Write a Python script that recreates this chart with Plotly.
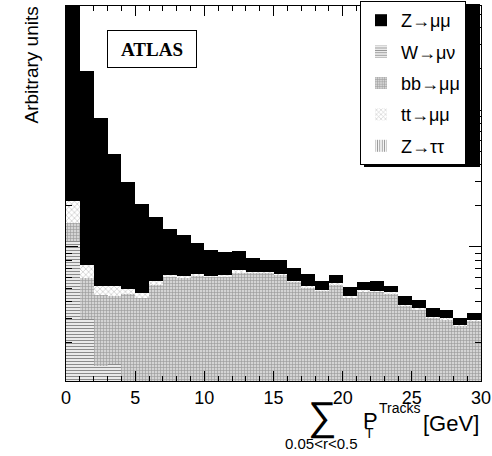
import plotly.graph_objects as go

# bin centres (GeV), 1 GeV bins from 0 to 30
bin_centers = [i + 0.5 for i in range(30)]

# Stack components (arbitrary units), bottom of stack first
z_tautau = [1.0, 1.0, 1.0, 1.0, 1.0, 1.0, 0.5, 0.5, 0.5, 0.5, 0.5, 0.5, 0.5, 0.5, 0.5,
            0.5, 0.5, 0.5, 0.5, 0.5, 0.5, 0.5, 0.5, 0.5, 0.5, 0.5, 0.5, 0.5, 0.5, 0.5]
w_munu = [109, 28.5, 12.4, 13.0, 6, 5, 4.5, 4, 3.5, 3.5, 3, 3, 3, 3, 2.5,
          2.5, 2.5, 2.5, 2, 2, 2, 2, 2, 2, 1.5, 1.5, 1.5, 1.5, 1.5, 1.5]
bb_mumu = [39.7, 29.9, 31.5, 30.1, 38.2, 36.4, 48.1, 55.9, 55.4, 57.7, 56.9, 57.5, 61.1, 61.1, 61.6,
           59.8, 52.5, 47.9, 45.5, 50.6, 40.5, 44.7, 44.4, 43.5, 35.3, 32.9, 28.3, 27.5, 24.7, 27.0]
tt_mumu = [65.5, 14.9, 6.7, 7.5, 4.0, 3.8, 3.0, 2.4, 2.3, 2.1, 1.3, 1.8, 3.7, 1.1, 1.1,
           1.0, 1.2, 1.3, 0.8, 1.5, 0.6, 1.0, 1.1, 0.9, 0.6, 1.0, 0.5, 0.5, 0.4, 0.4]
z_mumu = [6800, 1862, 827, 428, 249, 160, 109.5, 72.5, 60.6, 43.2, 33.9, 29.1, 24.6, 17.5, 14.1,
          16.0, 13.6, 11.3, 7.9, 8.2, 7.7, 7.0, 8.1, 5.3, 6.2, 4.7, 4.8, 4.5, 3.2, 3.6]

labels = {
    "z_mumu": "Z→μμ",
    "w_munu": "W→μν",
    "bb_mumu": "bb→μμ",
    "tt_mumu": "tt→μμ",
    "z_tautau": "Z→ττ",
}

FONT = "Liberation Sans, Arial, sans-serif"

fig = go.Figure()

def add(vals, name, rank, marker):
    fig.add_trace(go.Bar(
        x=bin_centers, y=vals, name=name, width=1.0,
        marker=marker, legendrank=rank, legendgroup=name,
    ))

add(z_tautau, labels["z_tautau"], 5,
    dict(color="white", line=dict(width=0),
         pattern=dict(shape="|", fgcolor="#222", bgcolor="white", size=3, solidity=0.4)))
add(w_munu, labels["w_munu"], 2,
    dict(color="white", line=dict(width=0),
         pattern=dict(shape="-", fgcolor="#222", bgcolor="#f4f4f4", size=3, solidity=0.4)))
add(bb_mumu, labels["bb_mumu"], 3,
    dict(color="#cccccc", line=dict(width=0),
         pattern=dict(shape="+", fgcolor="#5a5a5a", bgcolor="#d4d4d4", size=3, solidity=0.35)))
add(tt_mumu, labels["tt_mumu"], 4,
    dict(color="white", line=dict(width=0),
         pattern=dict(shape="x", fgcolor="#888", bgcolor="white", size=4, solidity=0.3)))
add(z_mumu, labels["z_mumu"], 1,
    dict(color="black", line=dict(width=0)))

L, R, T, B = 66, 11, 6, 75
W, H = 492, 456
PW, PH = W - L - R, H - T - B

def px(x):
    return (x - L) / PW

def py(y):
    return (H - B - y) / PH

fig.update_layout(
    width=W, height=H,
    margin=dict(l=L, r=R, t=T, b=B, pad=0, autoexpand=False),
    paper_bgcolor="white", plot_bgcolor="white",
    barmode="stack", bargap=0,
    font=dict(family=FONT, color="black"),
    showlegend=True,
    legend=dict(
        x=px(360), y=py(1), xanchor="left", yanchor="top",
        bgcolor="white", bordercolor="black", borderwidth=1,
        font=dict(size=18, family=FONT), traceorder="grouped",
        tracegroupgap=5, itemwidth=30,
    ),
)

# legend drop shadow
fig.add_shape(type="rect", xref="paper", yref="paper",
              x0=px(364), x1=px(480), y0=py(167), y1=py(4),
              fillcolor="black", line=dict(width=0), layer="above")

fig.update_xaxes(
    range=[0, 30], dtick=5, tick0=0, automargin=False,
    ticks="inside", ticklen=10, tickwidth=1, tickcolor="black",
    minor=dict(ticks="inside", dtick=1, ticklen=5, tickcolor="black"),
    showline=True, linecolor="black", linewidth=1, mirror="ticks",
    showgrid=False, zeroline=False,
    tickfont=dict(size=18, family=FONT),
)
fig.update_yaxes(
    type="log", range=[1.02, 3.761], dtick=1, automargin=False,
    ticks="inside", ticklen=12, tickwidth=1, tickcolor="black",
    minor=dict(ticks="inside", ticklen=6, dtick="D1", tickcolor="black"),
    showline=True, linecolor="black", linewidth=1, mirror="ticks",
    showgrid=False, zeroline=False, showticklabels=False,
)

anns = [
    dict(text="Arbitrary units", x=px(31), y=py(5), xanchor="center", yanchor="top",
         textangle=-90, font=dict(size=19)),
    dict(text="<b>ATLAS</b>", x=px(151.7), y=py(49), xanchor="center", yanchor="middle",
         font=dict(size=19, family="Liberation Serif, Times New Roman, serif"),
         bordercolor="black", borderwidth=1, borderpad=1, width=86, height=34,
         bgcolor="white"),
    dict(text="∑", x=px(322), y=py(416), xanchor="center", yanchor="middle",
         font=dict(size=40)),
    dict(text="0.05<r<0.5", x=px(321), y=py(443), xanchor="center", yanchor="middle",
         font=dict(size=15)),
    dict(text="P", x=px(361), y=py(420.5), xanchor="left", yanchor="middle",
         font=dict(size=22)),
    dict(text="T", x=px(363), y=py(433), xanchor="left", yanchor="middle",
         font=dict(size=14)),
    dict(text="Tracks", x=px(377), y=py(408), xanchor="left", yanchor="middle",
         font=dict(size=14)),
    dict(text="[GeV]", x=px(421), y=py(423), xanchor="left", yanchor="middle",
         font=dict(size=22)),
]
for a in anns:
    a.update(xref="paper", yref="paper", showarrow=False)
    fig.add_annotation(**a)

fig.write_html("out.html", config={"displayModeBar": False},
               post_script="document.body.style.margin='0';")
